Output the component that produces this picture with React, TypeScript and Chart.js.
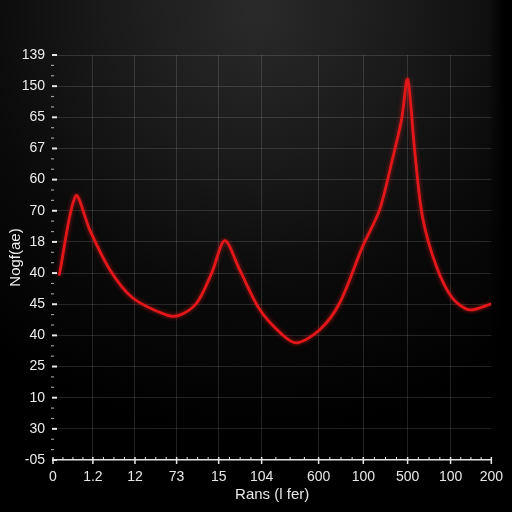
import React, { useEffect, useRef } from "react";
import { Chart, registerables } from "chart.js";

Chart.register(...registerables);

const xTickValues = [0, 9.1, 18.7, 28.2, 37.8, 47.6, 60.6, 70.8, 80.9, 90.7, 100];
const xTickLabels = ["0", "1.2", "12", "73", "15", "104", "600", "100", "500", "100", "200"];
const yTickLabels = ["-05", "30", "10", "25", "40", "45", "40", "18", "70", "60", "67", "65", "150", "139"];

const seriesX = [1.4, 5.2, 8.4, 13, 18.2, 26, 28.9, 32.8, 36.2, 39.2, 42.6, 47.2, 52.4, 55.6, 60.8, 65.4, 70.6, 74.5, 77.4, 79.5, 80.9, 82.5, 84.3, 87.5, 91.1, 95, 100];
const seriesY = [5.92, 8.48, 7.38, 6.1, 5.2, 4.65, 4.65, 5.04, 6.0, 7.04, 6.1, 4.82, 4.01, 3.76, 4.17, 5.04, 6.84, 8.03, 9.63, 10.91, 12.22, 9.95, 7.8, 6.2, 5.2, 4.82, 5.01];

const FONT = "'Liberation Sans', Arial, sans-serif";

const bgPlugin = {
  id: "bg",
  beforeDraw(chart: any) {
    const { ctx, width, height } = chart;
    ctx.save();
    ctx.fillStyle = "#000";
    ctx.fillRect(0, 0, width, height);
    const g = ctx.createRadialGradient(256, 10, 0, 256, 10, 430);
    g.addColorStop(0, "#2a2a2a");
    g.addColorStop(0.35, "#1a1a1a");
    g.addColorStop(0.65, "#0a0a0a");
    g.addColorStop(1, "#000");
    ctx.fillStyle = g;
    ctx.fillRect(0, 0, width, height);
    const r = ctx.createLinearGradient(488, 0, 506, 0);
    r.addColorStop(0, "rgba(0,0,0,0)");
    r.addColorStop(1, "rgba(0,0,0,1)");
    ctx.fillStyle = r;
    ctx.fillRect(488, 0, width - 488, height);
    ctx.restore();
  },
};

const ticksPlugin = {
  id: "customTicks",
  afterDraw(chart: any) {
    const { ctx } = chart;
    const xs = chart.scales.x;
    const ys = chart.scales.y;
    const area = chart.chartArea;
    ctx.save();
    ctx.strokeStyle = "#e6e6e6";
    ctx.lineWidth = 2;
    ys.ticks.forEach((t: any) => {
      const py = ys.getPixelForValue(t.value);
      ctx.beginPath();
      ctx.moveTo(area.left - 1, py);
      ctx.lineTo(area.left + 4, py);
      ctx.stroke();
    });
    ctx.strokeStyle = "rgba(220,220,220,0.7)";
    ctx.lineWidth = 1.2;
    for (let i = 0; i < ys.ticks.length - 1; i++) {
      const a = ys.getPixelForValue(ys.ticks[i].value);
      const b = ys.getPixelForValue(ys.ticks[i + 1].value);
      for (let k = 1; k <= 2; k++) {
        const py = a + ((b - a) * k) / 3;
        ctx.beginPath();
        ctx.moveTo(area.left - 2, py);
        ctx.lineTo(area.left + 1, py);
        ctx.stroke();
      }
    }
    ctx.strokeStyle = "#e6e6e6";
    ctx.lineWidth = 1.5;
    xs.ticks.forEach((t: any) => {
      const px = xs.getPixelForValue(t.value);
      ctx.beginPath();
      ctx.moveTo(px, area.bottom - 3);
      ctx.lineTo(px, area.bottom + 4);
      ctx.stroke();
    });
    ctx.lineWidth = 1;
    for (let i = 0; i < xs.ticks.length - 1; i++) {
      const a = xs.getPixelForValue(xs.ticks[i].value);
      const b = xs.getPixelForValue(xs.ticks[i + 1].value);
      for (let k = 1; k <= 3; k++) {
        const px = a + ((b - a) * k) / 4;
        ctx.beginPath();
        ctx.moveTo(px, area.bottom - 3);
        ctx.lineTo(px, area.bottom);
        ctx.stroke();
      }
    }
    ctx.restore();
  },
};

const glowPlugin = {
  id: "glow",
  beforeDatasetDraw(chart: any) {
    chart.ctx.save();
    chart.ctx.shadowColor = "rgba(255,30,30,0.6)";
    chart.ctx.shadowBlur = 4;
  },
  afterDatasetDraw(chart: any) {
    chart.ctx.restore();
  },
};

export default function App() {
  const ref = useRef<HTMLCanvasElement>(null);
  useEffect(() => {
    document.body.style.margin = "0";
    const chart = new Chart(ref.current as HTMLCanvasElement, {
      type: "line",
      data: {
        datasets: [
          {
            data: seriesX.map((x, i) => ({ x, y: seriesY[i] })),
            borderColor: "#e3161a",
            borderWidth: 2.8,
            pointRadius: 0,
            fill: false,
            tension: 0.3,
          },
        ],
      },
      options: {
        animation: false,
        responsive: false,
        maintainAspectRatio: false,
        layout: { padding: { top: 55, right: 20, left: 7, bottom: 8 } },
        plugins: { legend: { display: false }, tooltip: { enabled: false } },
        scales: {
          x: {
            type: "linear",
            min: 0,
            max: 100,
            afterBuildTicks: (scale: any) => {
              scale.ticks = xTickValues.map((v) => ({ value: v }));
            },
            afterFit: (scale: any) => {
              scale.height = 44;
            },
            ticks: {
              autoSkip: false,
              maxRotation: 0,
              padding: 9,
              color: "#e8e8e8",
              font: { family: FONT, size: 14 },
              callback: (_v: any, i: number) => xTickLabels[i],
            },
            grid: {
              drawTicks: false,
              color: (c: any) =>
                c.index === 0 || c.index === xTickValues.length - 1
                  ? "rgba(0,0,0,0)"
                  : "rgba(255,255,255,0.13)",
              lineWidth: 1,
            },
            border: { display: true, color: "#e6e6e6", width: 1.5 },
            title: {
              display: true,
              text: "Rans (l fer)",
              color: "#e8e8e8",
              font: { family: FONT, size: 15 },
              padding: { top: 1, bottom: 0 },
            },
          },
          y: {
            type: "linear",
            min: 0,
            max: 13,
            afterFit: (scale: any) => {
              scale.width = 46;
            },
            ticks: {
              stepSize: 1,
              autoSkip: false,
              padding: 8,
              color: "#ececec",
              font: { family: FONT, size: 14 },
              callback: (v: any) => yTickLabels[Math.round(v)],
            },
            grid: {
              drawTicks: false,
              color: (c: any) => (c.index === 0 ? "rgba(0,0,0,0)" : "rgba(255,255,255,0.13)"),
              lineWidth: 1,
            },
            border: { display: false },
            title: {
              display: true,
              text: "Nogf(ae)",
              color: "#ececec",
              font: { family: FONT, size: 15 },
              padding: { top: 0, bottom: 0 },
            },
          },
        },
      },
      plugins: [bgPlugin, glowPlugin, ticksPlugin],
    } as any);
    return () => chart.destroy();
  }, []);
  return (
    <div style={{ position: "fixed", left: 0, top: 0, width: 512, height: 512 }}>
      <canvas ref={ref} width={512} height={512} style={{ width: 512, height: 512, display: "block" }} />
    </div>
  );
}
